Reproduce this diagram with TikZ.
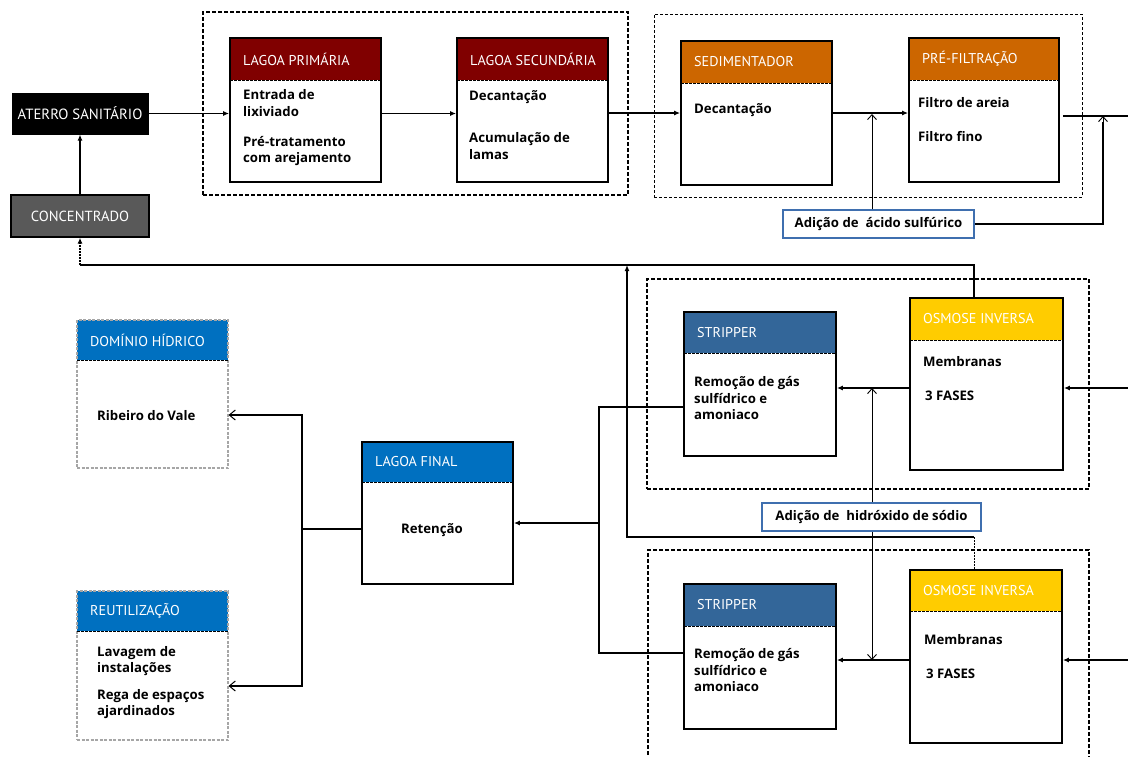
\documentclass[tikz,border=0pt]{standalone}
\usepackage{fontspec}
\setmainfont{PT Sans}
\newfontfamily\bodyfont{Open Sans}
\usetikzlibrary{arrows.meta,fit}
\definecolor{cRed}{HTML}{800000}
\definecolor{cOrange}{HTML}{CC6600}
\definecolor{cBlue}{HTML}{0070C0}
\definecolor{cSteel}{HTML}{336699}
\definecolor{cYellow}{HTML}{FFCC00}
\definecolor{cGray}{HTML}{595959}
\definecolor{cLight}{HTML}{A6A6A6}
\definecolor{cAdd}{HTML}{3F6FAF}
\newcommand{\procbox}[9]{%
  \fill[#7] (#2,#3) rectangle (#4,#6);
  \node[fit={(#2,#3) (#4,#5)}, inner sep=0pt, #8] (#1) {};
  \draw[divider] (#2,#6) -- (#4,#6);
  \node[hdr] (#1-t) at (#2+13,{(#3+#6)/2}) {#9};
}
\begin{document}
\begin{tikzpicture}[x=1pt,y=-1pt,
  solidbox/.style={draw=black, line width=1.8pt},
  lightbox/.style={draw=cLight, line width=1.1pt, dash pattern=on 3pt off 1.5pt},
  divider/.style={draw=black, line width=0.9pt, dash pattern=on 2.5pt off 1.5pt},
  hdr/.style={anchor=west, inner sep=0pt, text=white, font=\fontsize{14.2}{16}\selectfont},
  txt/.style={anchor=west, inner sep=0pt, align=left, font=\bodyfont\bfseries\fontsize{13.2}{16.5}\selectfont},
  grpA/.style={draw=black, line width=1.4pt, dash pattern=on 4pt off 2pt},
  grpB/.style={draw=black, line width=0.9pt, dash pattern=on 3pt off 2pt},
  conn/.style={draw=black, line width=1.6pt},
  flow/.style={conn, -{Latex[length=6pt,width=5pt]}},
  addarrow/.style={draw=black, line width=0.9pt, -{Straight Barb[length=5pt,width=9pt]}},
  outarrow/.style={draw=black, line width=1.6pt, -{Straight Barb[length=6pt,width=10pt,line width=1pt]}},
  addbox/.style={draw=cAdd, line width=1.5pt, fill=white, inner sep=0pt}
]
\useasboundingbox (0,0) rectangle (1128,756);
\fill[white] (0,0) rectangle (1128,756);

% group boxes
\node[fit={(203,12) (628,195)}, inner sep=0pt, grpA] (g1) {};
\node[fit={(654,14) (1082,197)}, inner sep=0pt, grpB] (g2) {};
\node[fit={(647,279) (1089,489)}, inner sep=0pt, grpA] (g3) {};
\node[fit={(648,550) (1089,775)}, inner sep=0pt, grpA] (g4) {};

% left column boxes
\node[fit={(12,93) (148,134)}, inner sep=0pt, fill=black, draw=black, line width=1pt] (aterro) {};
\node[text=white, font=\fontsize{14.8}{16}\selectfont, inner sep=0pt] (aterro-t) at (aterro.center) {ATERRO SANITÁRIO};
\node[fit={(11,195) (149,237)}, inner sep=0pt, fill=cGray, draw=black, line width=1.4pt] (conc) {};
\node[text=white, font=\fontsize{14.6}{16}\selectfont, inner sep=0pt] (conc-t) at (conc.center) {CONCENTRADO};

% process boxes
\procbox{lp}{230}{38}{381}{182}{80}{cRed}{solidbox}{LAGOA PRIMÁRIA}
\node[txt] (lp-a) at (243,103) {Entrada de\\lixiviado};
\node[txt] (lp-b) at (243,151) {Pré-tratamento\\com arejamento};

\procbox{ls}{457}{38}{608}{182}{80}{cRed}{solidbox}{LAGOA SECUNDÁRIA}
\node[txt] (ls-a) at (469,97) {Decantação};
\node[txt] (ls-b) at (469,146) {Acumulação de\\lamas};

\procbox{sed}{681}{41}{832}{185}{83}{cOrange}{solidbox}{SEDIMENTADOR}
\node[txt] (sed-a) at (694,110) {Decantação};

\procbox{pf}{909}{38}{1059}{182}{80}{cOrange}{solidbox}{PRÉ-FILTRAÇÃO}
\node[txt] (pf-a) at (918,103) {Filtro de areia};
\node[txt] (pf-b) at (918,137) {Filtro fino};

\procbox{st1}{684}{312}{836}{456}{353}{cSteel}{solidbox}{STRIPPER}
\node[txt] (st1-a) at (694,398) {Remoção de gás\\sulfídrico e\\amoniaco};

\procbox{oi1}{910}{298}{1063}{470}{340}{cYellow}{solidbox}{OSMOSE INVERSA}
\node[txt] (oi1-a) at (923,362) {Membranas};
\node[txt] (oi1-b) at (925,396) {3 FASES};

\procbox{st2}{684}{584}{836}{729}{626}{cSteel}{solidbox}{STRIPPER}
\node[txt] (st2-a) at (694,670) {Remoção de gás\\sulfídrico e\\amoniaco};

\procbox{oi2}{910}{570}{1062}{743}{611}{cYellow}{solidbox}{OSMOSE INVERSA}
\node[txt] (oi2-a) at (924,640) {Membranas};
\node[txt] (oi2-b) at (926,674) {3 FASES};

\procbox{lf}{362}{442}{513}{584}{482}{cBlue}{solidbox}{LAGOA FINAL}
\node[txt, anchor=center] (lf-a) at (432,530) {Retenção};

\procbox{dh}{77}{320}{228}{468}{360}{cBlue}{lightbox}{DOMÍNIO HÍDRICO}
\node[txt] (dh-a) at (97,416) {Ribeiro do Vale};

\procbox{reut}{77}{591}{228}{740}{631}{cBlue}{lightbox}{REUTILIZAÇÃO}
\node[txt] (reut-a) at (97,661) {Lavagem de\\instalações};
\node[txt] (reut-b) at (97,704) {Rega de espaços\\ajardinados};

% addition boxes
\node[fit={(783,210) (974,238)}, addbox] (acid) {};
\node[txt, anchor=center] (acid-t) at (acid.center) {Adição de\ \ ácido sulfúrico};

% coordinates
\coordinate (pfo) at (1128,116);
\coordinate (a1) at (872,114);
\coordinate (a2) at (1103,116);
\coordinate (r1) at (974,265);
\coordinate (r2) at (974,537);
\coordinate (r3) at (627,265);
\coordinate (m1) at (1128,388);
\coordinate (m2) at (1128,660);
\coordinate (h1) at (872,388);
\coordinate (h2) at (872,660);
\coordinate (c1) at (599,407);
\coordinate (c2) at (599,653);
\coordinate (c3) at (599,523);
\coordinate (d0) at (302,529);
\coordinate (d1) at (302,415);
\coordinate (d2) at (302,686);

% top row connectors
\draw[flow] (aterro.east) -- (aterro.east -| lp.west);
\draw[flow] (lp.east |- aterro.east) -- (ls.west |- aterro.east);
\draw[flow] (ls.east |- sed.west) -- (sed.west);
\draw[flow] (sed.east) -- (sed.east -| pf.west);
\draw[draw=black, line width=1.2pt] ([xshift=3pt]pf.east |- pfo) -- (pfo);
\draw[addarrow] (a1 |- acid.north) -- (a1);
\draw[draw=black, line width=1.1pt] (acid.east) -| ([yshift=-6pt]a2);
\draw[addarrow] ([yshift=-6pt]a2) -- (a2);
\draw[flow] (conc.north) -- (aterro.south);

% concentrate loop
\draw[conn, line width=1.3pt] (oi1.north -| r1) |- (conc.south |- r1);
\draw[line width=1.2pt, dash pattern=on 2pt off 1pt, -{Latex[length=6pt,width=5pt]}] (conc.south |- r1) -- (conc.south);
\draw[line width=0.9pt, dash pattern=on 2pt off 1pt] (oi2.north -| r2) -- (r2);
\draw[flow, line width=1.3pt] (r2) -| (r3);

% osmose / stripper
\draw[flow] (m1) -- (m1 -| oi1.east);
\draw[flow] (m1 -| oi1.west) -- (m1 -| st1.east);
\draw[flow] (m2) -- (m2 -| oi2.east);
\draw[flow] (m2 -| oi2.west) -- (m2 -| st2.east);

% hydroxide
\node[fit={(762,503) (981,531)}, addbox] (hid) {};
\node[txt, anchor=center] (hid-t) at (hid.center) {Adição de\ \ hidróxido de sódio};
\draw[addarrow] (h1 |- hid.north) -- (h1);
\draw[addarrow] (h2 |- hid.south) -- (h2);

% collector to final lagoon
\draw[conn] (st1.west |- c1) -- (c1) -- (c2) -- (st2.west |- c2);
\draw[flow] (c3) -- (c3 -| lf.east);

% final lagoon outputs
\draw[conn] (d0 -| lf.west) -- (d0);
\draw[outarrow] (d0) -- (d1) -- (d1 -| dh.east);
\draw[outarrow] (d0) -- (d2) -- (d2 -| reut.east);
\end{tikzpicture}
\end{document}
